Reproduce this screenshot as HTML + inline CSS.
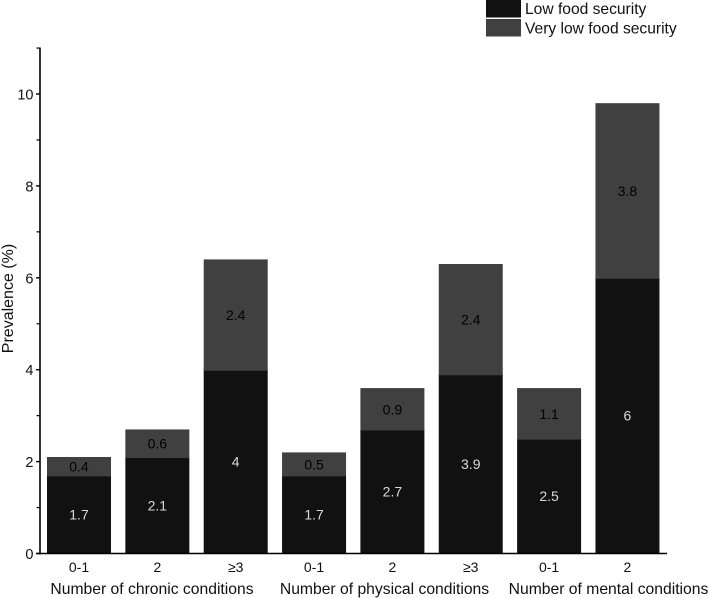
<!DOCTYPE html>
<html lang="en">
<head>
<meta charset="utf-8">
<title>Prevalence of food insecurity</title>
<style>
html,body{margin:0;padding:0;background:#fff;}
svg{display:block;font-family:"Liberation Sans",Arial,sans-serif;}
</style>
</head>
<body>
<svg id="chart" width="708" height="598" viewBox="0 0 708 598" xmlns="http://www.w3.org/2000/svg">
  <g id="bars"></g>
  <g id="axes"></g>
  <text transform="translate(13 298.5) rotate(-90)" text-anchor="middle" font-size="16" fill="#111">Prevalence (%)</text>
  <g>
    <rect x="486" y="0" width="35" height="17.5" fill="#111111"></rect>
    <text x="525" y="14" font-size="15.6" fill="#111">Low food security</text>
    <rect x="486" y="19" width="35" height="17.5" fill="#404040"></rect>
    <text x="525" y="33.5" font-size="15.6" fill="#111">Very low food security</text>
  </g>
</svg>
<script>
var categories = ["0-1", "2", "\u22653", "0-1", "2", "\u22653", "0-1", "2"];
var lowSecurity = [1.7, 2.1, 4, 1.7, 2.7, 3.9, 2.5, 6];
var veryLowSecurity = [0.4, 0.6, 2.4, 0.5, 0.9, 2.4, 1.1, 3.8];
var groupLabels = ["Number of chronic conditions", "Number of physical conditions", "Number of mental conditions"];
var yTickLabels = [0, 2, 4, 6, 8, 10];
var yMinorTicks = [1, 3, 5, 7, 9, 11];

var NS = "http://www.w3.org/2000/svg";
var barsG = document.getElementById("bars");
var axesG = document.getElementById("axes");

function yScale(v) { return 553.5 - v * 45.95; }
function xScale(i) { return 47 + i * 78.35; }
var barWidth = 64;

function make(tag, attrs, parent, txt) {
  var el = document.createElementNS(NS, tag);
  for (var k in attrs) { el.setAttribute(k, attrs[k]); }
  if (txt !== undefined) { el.textContent = txt; }
  parent.appendChild(el);
  return el;
}

categories.forEach(function (c, i) {
  var x = xScale(i);
  var low = lowSecurity[i];
  var vlow = veryLowSecurity[i];
  var yLow = yScale(low);
  var yTop = yScale(low + vlow);

  var r1 = make("rect", {x: x, y: yLow, width: barWidth, height: yScale(0) - yLow, fill: "#111111"}, barsG);
  
  

  var r2 = make("rect", {x: x, y: yTop, width: barWidth, height: yLow - yTop + 1, fill: "#404040"}, barsG);
  
  

  var t1 = make("text", {x: x + barWidth / 2, y: (yLow + yScale(0)) / 2 + 5, "text-anchor": "middle", "font-size": "14", fill: "#d8d8d8"}, barsG, String(low));
  
  

  var t2 = make("text", {x: x + barWidth / 2, y: (yTop + yLow) / 2 + 5.5, "text-anchor": "middle", "font-size": "14", fill: "#000"}, barsG, String(vlow));
  
  

  var t3 = make("text", {x: x + barWidth / 2, y: 572, "text-anchor": "middle", "font-size": "14", fill: "#111"}, axesG, c);
  
  
});

var yAxisLine = make("line", {x1: 40, y1: yScale(11) - 0.5, x2: 40, y2: yScale(0) + 1, stroke: "#000", "stroke-width": 1.6}, axesG);



var xAxisLine = make("line", {x1: 36, y1: yScale(0), x2: 667, y2: yScale(0), stroke: "#000", "stroke-width": 1.6}, axesG);



yTickLabels.forEach(function (v) {
  var tk = make("line", {x1: 36, y1: yScale(v), x2: 40, y2: yScale(v), stroke: "#000", "stroke-width": 1.4}, axesG);
  
  
  var lb = make("text", {x: 33.5, y: yScale(v) + 5.5, "text-anchor": "end", "font-size": "14.5", fill: "#111"}, axesG, String(v));
  
  
});

yMinorTicks.forEach(function (v) {
  var tk = make("line", {x1: 36.5, y1: yScale(v), x2: 40, y2: yScale(v), stroke: "#000", "stroke-width": 1.2}, axesG);
  
  
});

var groupCenters = [152, 384.5, 608.5];
groupLabels.forEach(function (g, i) {
  var t = make("text", {x: groupCenters[i], y: 594, "text-anchor": "middle", "font-size": "15.7", fill: "#111"}, axesG, g);
  
  
});
</script>
</body>
</html>
